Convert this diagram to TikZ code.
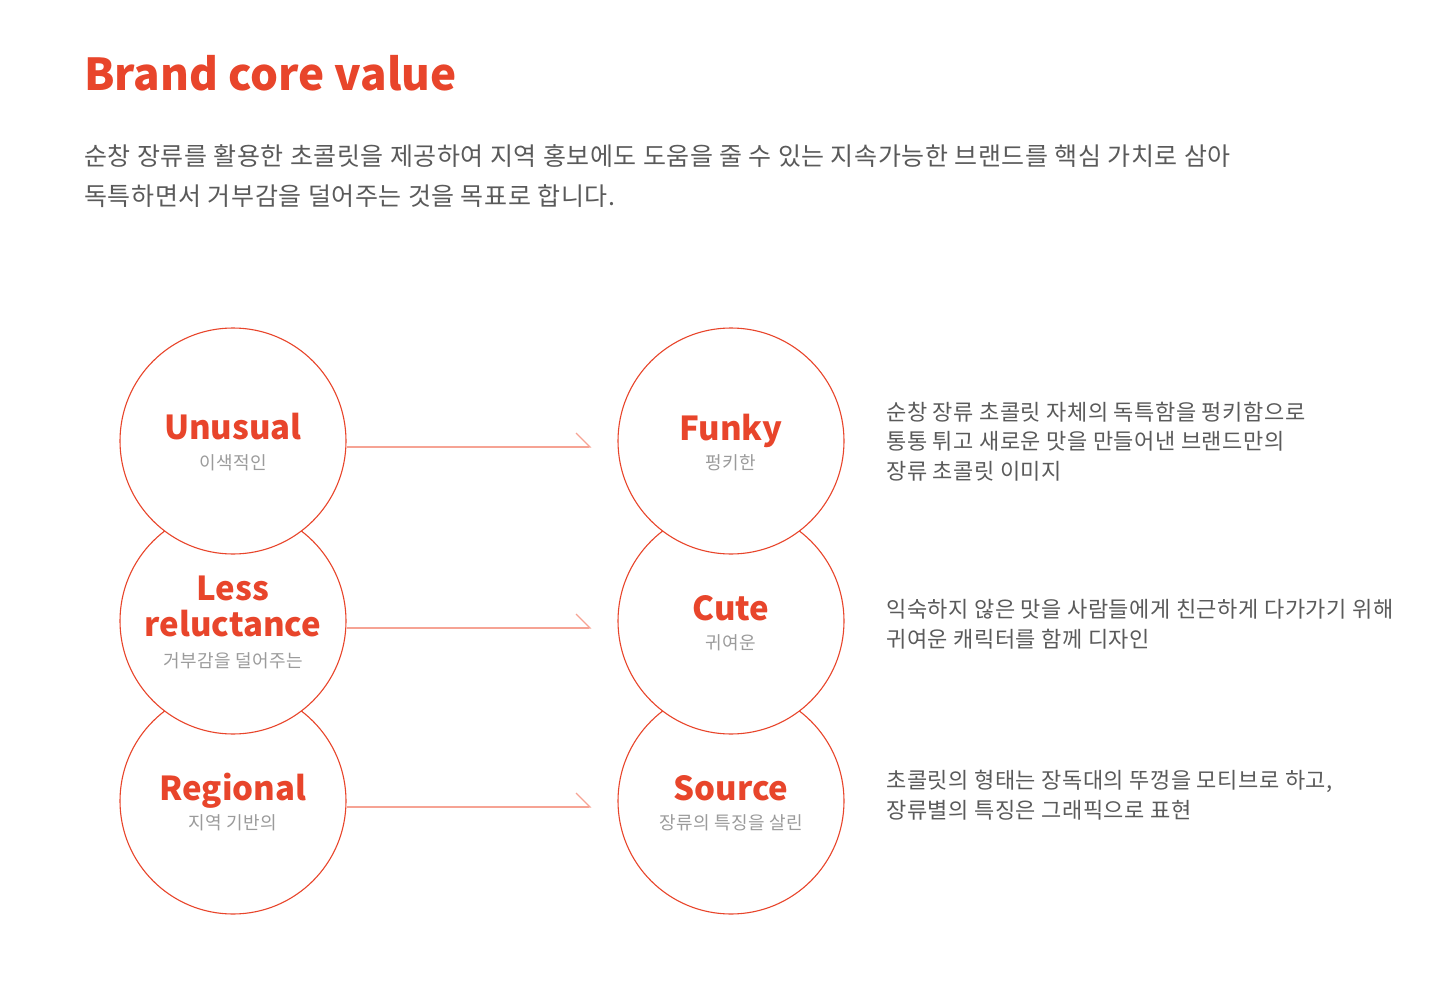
\documentclass[tikz,border=0pt]{standalone}
\usepackage{fontspec}
\setmainfont{Noto Sans CJK KR}
\newfontfamily\spacedfont[LetterSpace=2.5]{Noto Sans CJK KR}
\usetikzlibrary{arrows.meta,calc}

\definecolor{brandred}{HTML}{E8452B}
\definecolor{arrowred}{HTML}{F6A394}
\definecolor{bodygray}{HTML}{5A5A5A}
\definecolor{subgray}{HTML}{9B9B9B}

\tikzset{
	value/.style={circle, draw=brandred, line width=1.1pt, fill=white, minimum size=226pt, inner sep=0pt},
	valuename/.style={text=brandred, font=\fontsize{33}{36}\selectfont\bfseries, inner sep=0pt, anchor=base},
	valuesub/.style={text=subgray, font=\spacedfont\fontsize{18}{18}\selectfont, inner sep=0pt, anchor=base},
	desc/.style={text=bodygray, font=\spacedfont\fontsize{22}{29.5}\selectfont, align=left, inner sep=0pt, anchor=base west},
	flow/.style={draw=arrowred, line width=1.5pt, -{Straight Barb[harpoon, length=14pt, width=28pt, line width=1.2pt]}}
}

\begin{document}
\begin{tikzpicture}[x=1pt, y=-1pt]
	\useasboundingbox (0, 0) rectangle (1440, 1000);
	% Title and intro:
	\node[text=brandred, font=\fontsize{44}{44}\selectfont\bfseries, inner sep=0pt, anchor=base west] (title) at (84, 91) {Brand core value};
	\node[text=bodygray, font=\spacedfont\fontsize{25}{40}\selectfont, align=left, inner sep=0pt, anchor=base west] (intro) at (84, 206)
		{순창 장류를 활용한 초콜릿을 제공하여 지역 홍보에도 도움을 줄 수 있는 지속가능한 브랜드를 핵심 가치로 삼아\\독특하면서 거부감을 덜어주는 것을 목표로 합니다.};

	% Circles, back to front:
	\node[value] (regional) at (233, 801) {};
	\node[value] (less) at (233, 621) {};
	\node[value] (unusual) at (233, 441) {};
	\node[value] (source) at (731, 801) {};
	\node[value] (cute) at (731, 621) {};
	\node[value] (funky) at (731, 441) {};

	% Labels in the circles:
	\node[valuename] (unusualT) at ($(unusual)+(0,-2)$) {Unusual};
	\node[valuesub] (unusualS) at ($(unusual)+(0,28)$) {이색적인};
	\node[valuename] (lessT) at ($(less)+(0,-21)$) {Less};
	\node[valuename] (lessU) at ($(less)+(0,15)$) {reluctance};
	\node[valuesub] (lessS) at ($(less)+(0,46)$) {거부감을 덜어주는};
	\node[valuename] (regionalT) at ($(regional)+(0,-1)$) {Regional};
	\node[valuesub] (regionalS) at ($(regional)+(0,28)$) {지역 기반의};
	\node[valuename] (funkyT) at ($(funky)+(0,-1)$) {Funky};
	\node[valuesub] (funkyS) at ($(funky)+(0,28)$) {펑키한};
	\node[valuename] (cuteT) at ($(cute)+(0,-1)$) {Cute};
	\node[valuesub] (cuteS) at ($(cute)+(0,28)$) {귀여운};
	\node[valuename] (sourceT) at ($(source)+(0,-1)$) {Source};
	\node[valuesub] (sourceS) at ($(source)+(0,28)$) {장류의 특징을 살린};

	% Arrows:
	\draw[flow] ($(unusual.east)+(0,6)$) -- ($(funky.west)+(-26,6)$);
	\draw[flow] ($(less.east)+(0,7)$) -- ($(cute.west)+(-26,7)$);
	\draw[flow] ($(regional.east)+(0,6)$) -- ($(source.west)+(-26,6)$);

	% Descriptions:
	\node[desc] (funkyD) at (886, 479) {순창 장류 초콜릿 자체의 독특함을 펑키함으로\\통통 튀고 새로운 맛을 만들어낸 브랜드만의\\장류 초콜릿 이미지};
	\node[desc] (cuteD) at (886, 647) {익숙하지 않은 맛을 사람들에게 친근하게 다가가기 위해\\귀여운 캐릭터를 함께 디자인};
	\node[desc] (sourceD) at (886, 818) {초콜릿의 형태는 장독대의 뚜껑을 모티브로 하고,\\장류별의 특징은 그래픽으로 표현};
\end{tikzpicture}
\end{document}
